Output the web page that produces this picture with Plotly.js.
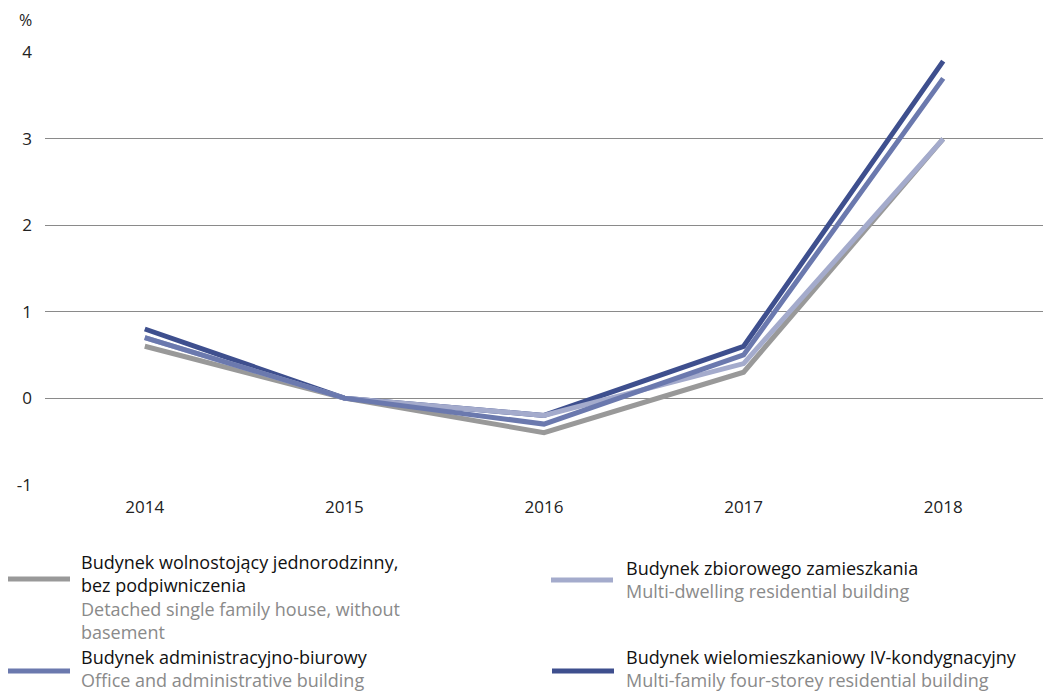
<!DOCTYPE html>
<html>
<head>
<meta charset="utf-8">
<script src="https://cdn.plot.ly/plotly-3.0.1.min.js"></script>
<style>html,body{margin:0;padding:0;background:#fff;}#chart{width:1043px;height:693px;}</style>
</head>
<body>
<div id="chart"></div>
<script>
const years = [2014, 2015, 2016, 2017, 2018];
const detached = [0.6, 0, -0.4, 0.3, 3.0];
const multiDwelling = [0.7, 0, -0.2, 0.4, 3.0];
const office = [0.7, 0, -0.3, 0.5, 3.7];
const multiFamily = [0.8, 0, -0.2, 0.6, 3.9];
const yTicks = [-1, 0, 1, 2, 3, 4];
const polishNames = ['Budynek wolnostojący jednorodzinny,<br>bez podpiwniczenia', 'Budynek zbiorowego zamieszkania', 'Budynek administracyjno-biurowy', 'Budynek wielomieszkaniowy IV-kondygnacyjny'];
const englishNames = ['Detached single family house, without<br>basement', 'Multi-dwelling residential building', 'Office and administrative building', 'Multi-family four-storey residential building'];
const seriesValues = [detached, multiDwelling, office, multiFamily];
const colors = ['#999999', '#a4abcc', '#6b79ae', '#3e4f8e'];
const drawOrder = [0, 3, 1, 2];

const W = 1043, H = 693, ML = 45, MR = 0, MT = 52, MB = 208;
const pw = W - ML - MR, ph = H - MT - MB;
const px = x => (x - ML) / pw;
const py = y => (H - MB - y) / ph;

const traces = drawOrder.map(i => ({
  x: years, y: seriesValues[i], type: 'scatter', mode: 'lines',
  line: {color: colors[i], width: 5}, showlegend: false, hoverinfo: 'skip'
}));

// legend layout (pixel positions)
const legendPos = [
  {sx0: 8, sx1: 70, sy: 579, tx: 79, ty: 548, anchor: 'top'},
  {sx0: 551, sx1: 613, sy: 580, tx: 624, ty: 554, anchor: 'top'},
  {sx0: 8, sx1: 70, sy: 671, tx: 79, ty: 694, anchor: 'bottom'},
  {sx0: 552, sx1: 614, sy: 671, tx: 624, ty: 694, anchor: 'bottom'}
];
const LF = 'Open Sans, sans-serif';
const shapes = [];
const annotations = [{
  text: '%', xref: 'paper', yref: 'paper', x: px(25), y: py(20), xanchor: 'center', yanchor: 'middle',
  showarrow: false, font: {family: LF, size: 16, color: '#222'}
}];
legendPos.forEach((p, i) => {
  shapes.push({type: 'line', xref: 'paper', yref: 'paper', x0: px(p.sx0), x1: px(p.sx1), y0: py(p.sy), y1: py(p.sy),
    line: {color: colors[i], width: 5}});
  const txt = polishNames[i] + '<br><span style="color:#8a8a8a">' + englishNames[i].split('<br>').join('</span><br><span style="color:#8a8a8a">') + '</span>';
  annotations.push({text: txt, xref: 'paper', yref: 'paper', x: px(p.tx), y: py(p.ty), xanchor: 'left', yanchor: p.anchor, align: 'left',
    showarrow: false, font: {family: LF, size: 18, color: '#111'}});
});

const layout = {
  width: W, height: H,
  margin: {l: ML, r: MR, t: MT, b: MB, pad: 0},
  paper_bgcolor: '#fff', plot_bgcolor: '#fff',
  showlegend: false,
  font: {family: LF, size: 17, color: '#222'},
  xaxis: {range: [2013.5, 2018.5], tickvals: years, ticktext: years.map(String), showgrid: false, zeroline: false,
    showline: false, ticks: '', ticklabelstandoff: 10, fixedrange: true},
  yaxis: {range: [-1.005, 4.005], tickvals: yTicks, ticktext: yTicks.map(String), showgrid: true, gridcolor: '#8a8a8a', gridwidth: 1,
    zeroline: true, zerolinecolor: '#8a8a8a', zerolinewidth: 1, showline: false, ticks: '', ticklabelstandoff: 12, fixedrange: true},
  shapes: shapes,
  annotations: annotations
};
Plotly.newPlot('chart', traces, layout, {displayModeBar: false, staticPlot: true});
</script>
</body>
</html>
